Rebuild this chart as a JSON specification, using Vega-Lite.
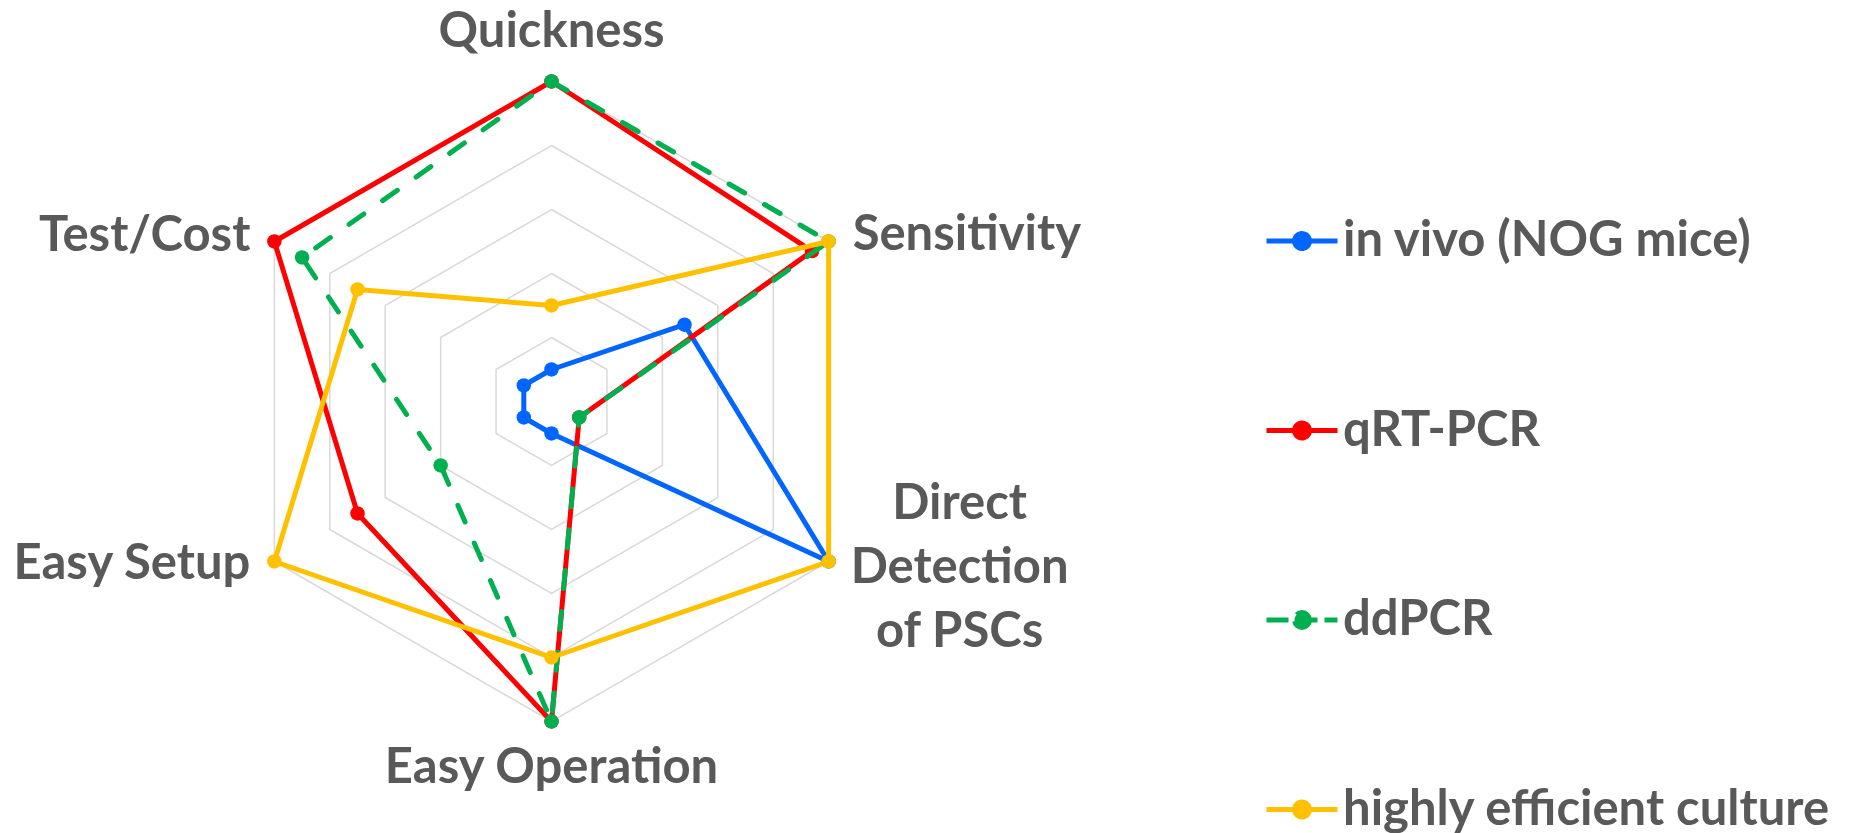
{
  "$schema": "https://vega.github.io/schema/vega-lite/v6.json",
  "width": 1861,
  "height": 833,
  "autosize": {"type": "none"},
  "padding": 0,
  "background": "white",
  "config": {"view": {"stroke": null}, "font": "Lato"},
  "datasets": {
    "axes": [
      {"criterion": "Quickness", "label": "Quickness", "levels": [1, 2, 3, 4, 5]},
      {"criterion": "Sensitivity", "label": "Sensitivity", "levels": [1, 2, 3, 4, 5]},
      {"criterion": "Direct Detection of PSCs", "label": "Direct\nDetection\nof PSCs", "levels": [1, 2, 3, 4, 5]},
      {"criterion": "Easy Operation", "label": "Easy Operation", "levels": [1, 2, 3, 4, 5]},
      {"criterion": "Easy Setup", "label": "Easy Setup", "levels": [1, 2, 3, 4, 5]},
      {"criterion": "Test/Cost", "label": "Test/Cost", "levels": [1, 2, 3, 4, 5]}
    ],
    "scores": [
      {"method": "in vivo (NOG mice)", "criterion": "Quickness", "value": 0.5},
      {"method": "in vivo (NOG mice)", "criterion": "Sensitivity", "value": 2.4},
      {"method": "in vivo (NOG mice)", "criterion": "Direct Detection of PSCs", "value": 5},
      {"method": "in vivo (NOG mice)", "criterion": "Easy Operation", "value": 0.5},
      {"method": "in vivo (NOG mice)", "criterion": "Easy Setup", "value": 0.5},
      {"method": "in vivo (NOG mice)", "criterion": "Test/Cost", "value": 0.5},
      {"method": "qRT-PCR", "criterion": "Quickness", "value": 5},
      {"method": "qRT-PCR", "criterion": "Sensitivity", "value": 4.7},
      {"method": "qRT-PCR", "criterion": "Direct Detection of PSCs", "value": 0.5},
      {"method": "qRT-PCR", "criterion": "Easy Operation", "value": 5},
      {"method": "qRT-PCR", "criterion": "Easy Setup", "value": 3.5},
      {"method": "qRT-PCR", "criterion": "Test/Cost", "value": 5},
      {"method": "ddPCR", "criterion": "Quickness", "value": 5},
      {"method": "ddPCR", "criterion": "Sensitivity", "value": 5},
      {"method": "ddPCR", "criterion": "Direct Detection of PSCs", "value": 0.5},
      {"method": "ddPCR", "criterion": "Easy Operation", "value": 5},
      {"method": "ddPCR", "criterion": "Easy Setup", "value": 2},
      {"method": "ddPCR", "criterion": "Test/Cost", "value": 4.5},
      {"method": "highly efficient culture", "criterion": "Quickness", "value": 1.5},
      {"method": "highly efficient culture", "criterion": "Sensitivity", "value": 5},
      {"method": "highly efficient culture", "criterion": "Direct Detection of PSCs", "value": 5},
      {"method": "highly efficient culture", "criterion": "Easy Operation", "value": 4},
      {"method": "highly efficient culture", "criterion": "Easy Setup", "value": 5},
      {"method": "highly efficient culture", "criterion": "Test/Cost", "value": 3.5}
    ]
  },
  "encoding": {
    "x": {"field": "x", "type": "quantitative", "scale": {"domain": [-8.6172, 20.4609], "nice": false, "zero": false}, "axis": null},
    "y": {"field": "y", "type": "quantitative", "scale": {"domain": [-6.7422, 6.2734], "nice": false, "zero": false}, "axis": null}
  },
  "layer": [
    {
      "data": {"name": "axes"},
      "transform": [
        {"flatten": ["levels"], "as": ["level"]},
        {"calculate": "indexof(['Quickness','Sensitivity','Direct Detection of PSCs','Easy Operation','Easy Setup','Test/Cost'], datum.criterion)", "as": "idx"},
        {"calculate": "datum.level * sin(datum.idx * PI / 3)", "as": "x"},
        {"calculate": "datum.level * cos(datum.idx * PI / 3)", "as": "y"}
      ],
      "mark": {"type": "line", "interpolate": "linear-closed", "stroke": "#D9D9D9", "strokeWidth": 1.5},
      "encoding": {
        "detail": {"field": "level", "type": "nominal"},
        "order": {"field": "idx", "type": "quantitative"}
      }
    },
    {
      "data": {"name": "scores"},
      "transform": [
        {"filter": "datum.method === 'in vivo (NOG mice)'"},
        {"calculate": "indexof(['Quickness','Sensitivity','Direct Detection of PSCs','Easy Operation','Easy Setup','Test/Cost'], datum.criterion)", "as": "idx"},
        {"calculate": "datum.value * sin(datum.idx * PI / 3)", "as": "x"},
        {"calculate": "datum.value * cos(datum.idx * PI / 3)", "as": "y"}
      ],
      "mark": {"type": "line", "interpolate": "linear-closed", "strokeWidth": 5, "strokeJoin": "round", "point": {"filled": true, "size": 210, "opacity": 1}},
      "encoding": {
        "color": {
          "field": "method", "type": "nominal",
          "scale": {"domain": ["in vivo (NOG mice)", "qRT-PCR", "ddPCR", "highly efficient culture"], "range": ["#0066FF", "#FF0000", "#00B050", "#FFC000"]},
          "legend": {
            "title": null, "orient": "none", "legendX": 1264, "legendY": 203, "direction": "vertical", "padding": 0,
            "symbolType": "M-1,0H1M0.21,0A0.21,0.21,0,1,1,-0.21,0A0.21,0.21,0,1,1,0.21,0Z",
            "symbolSize": 5041, "symbolStrokeWidth": 5,
            "labelFont": "Lato", "labelFontSize": 49, "labelFontWeight": "bold", "labelColor": "#595959",
            "labelLimit": 800, "labelOffset": 3, "rowPadding": 126.5,
            "encode": {"symbols": {"update": {
              "fill": {"scale": "color", "field": "value"},
              "stroke": {"scale": "color", "field": "value"},
              "strokeDash": {"signal": "datum.value === 'ddPCR' ? [22, 7] : [1, 0]"},
              "opacity": {"value": 1}
            }}}
          }
        },
        "order": {"field": "idx", "type": "quantitative"}
      }
    },
    {
      "data": {"name": "scores"},
      "transform": [
        {"filter": "datum.method === 'qRT-PCR'"},
        {"calculate": "indexof(['Quickness','Sensitivity','Direct Detection of PSCs','Easy Operation','Easy Setup','Test/Cost'], datum.criterion)", "as": "idx"},
        {"calculate": "datum.value * sin(datum.idx * PI / 3)", "as": "x"},
        {"calculate": "datum.value * cos(datum.idx * PI / 3)", "as": "y"}
      ],
      "mark": {"type": "line", "interpolate": "linear-closed", "strokeWidth": 5, "strokeJoin": "round", "point": {"filled": true, "size": 210, "opacity": 1}},
      "encoding": {
        "color": {"field": "method", "type": "nominal"},
        "order": {"field": "idx", "type": "quantitative"}
      }
    },
    {
      "data": {"name": "scores"},
      "transform": [
        {"filter": "datum.method === 'ddPCR'"},
        {"calculate": "indexof(['Quickness','Sensitivity','Direct Detection of PSCs','Easy Operation','Easy Setup','Test/Cost'], datum.criterion)", "as": "idx"},
        {"calculate": "datum.value * sin(datum.idx * PI / 3)", "as": "x"},
        {"calculate": "datum.value * cos(datum.idx * PI / 3)", "as": "y"}
      ],
      "mark": {"type": "line", "interpolate": "linear-closed", "strokeWidth": 5, "strokeCap": "round", "strokeDash": [18, 23], "point": {"filled": true, "size": 210, "opacity": 1}},
      "encoding": {
        "color": {"field": "method", "type": "nominal"},
        "order": {"field": "idx", "type": "quantitative"}
      }
    },
    {
      "data": {"name": "scores"},
      "transform": [
        {"filter": "datum.method === 'highly efficient culture'"},
        {"calculate": "indexof(['Quickness','Sensitivity','Direct Detection of PSCs','Easy Operation','Easy Setup','Test/Cost'], datum.criterion)", "as": "idx"},
        {"calculate": "datum.value * sin(datum.idx * PI / 3)", "as": "x"},
        {"calculate": "datum.value * cos(datum.idx * PI / 3)", "as": "y"}
      ],
      "mark": {"type": "line", "interpolate": "linear-closed", "strokeWidth": 5, "strokeJoin": "round", "point": {"filled": true, "size": 210, "opacity": 1}},
      "encoding": {
        "color": {"field": "method", "type": "nominal"},
        "order": {"field": "idx", "type": "quantitative"}
      }
    },
    {
      "data": {"name": "axes"},
      "transform": [
        {"filter": "datum.criterion === 'Quickness'"},
        {"calculate": "indexof(['Quickness','Sensitivity','Direct Detection of PSCs','Easy Operation','Easy Setup','Test/Cost'], datum.criterion)", "as": "idx"},
        {"calculate": "5 * sin(datum.idx * PI / 3)", "as": "x"},
        {"calculate": "5 * cos(datum.idx * PI / 3)", "as": "y"}
      ],
      "mark": {"type": "text", "align": "center", "baseline": "alphabetic", "dy": -34, "font": "Lato", "fontSize": 49, "fontWeight": "bold", "color": "#595959"},
      "encoding": {"text": {"field": "label"}}
    },
    {
      "data": {"name": "axes"},
      "transform": [
        {"filter": "datum.criterion === 'Sensitivity'"},
        {"calculate": "indexof(['Quickness','Sensitivity','Direct Detection of PSCs','Easy Operation','Easy Setup','Test/Cost'], datum.criterion)", "as": "idx"},
        {"calculate": "5 * sin(datum.idx * PI / 3)", "as": "x"},
        {"calculate": "5 * cos(datum.idx * PI / 3)", "as": "y"}
      ],
      "mark": {"type": "text", "align": "left", "baseline": "alphabetic", "dx": 24, "dy": 8.5, "font": "Lato", "fontSize": 49, "fontWeight": "bold", "color": "#595959"},
      "encoding": {"text": {"field": "label"}}
    },
    {
      "data": {"name": "axes"},
      "transform": [
        {"filter": "datum.criterion === 'Direct Detection of PSCs'"},
        {"calculate": "indexof(['Quickness','Sensitivity','Direct Detection of PSCs','Easy Operation','Easy Setup','Test/Cost'], datum.criterion)", "as": "idx"},
        {"calculate": "5 * sin(datum.idx * PI / 3)", "as": "x"},
        {"calculate": "5 * cos(datum.idx * PI / 3)", "as": "y"}
      ],
      "mark": {"type": "text", "align": "center", "baseline": "middle", "dx": 131, "dy": -57, "lineBreak": "\n", "lineHeight": 64, "font": "Lato", "fontSize": 49, "fontWeight": "bold", "color": "#595959"},
      "encoding": {"text": {"field": "label"}}
    },
    {
      "data": {"name": "axes"},
      "transform": [
        {"filter": "datum.criterion === 'Easy Operation'"},
        {"calculate": "indexof(['Quickness','Sensitivity','Direct Detection of PSCs','Easy Operation','Easy Setup','Test/Cost'], datum.criterion)", "as": "idx"},
        {"calculate": "5 * sin(datum.idx * PI / 3)", "as": "x"},
        {"calculate": "5 * cos(datum.idx * PI / 3)", "as": "y"}
      ],
      "mark": {"type": "text", "align": "center", "baseline": "alphabetic", "dy": 62, "font": "Lato", "fontSize": 49, "fontWeight": "bold", "color": "#595959"},
      "encoding": {"text": {"field": "label"}}
    },
    {
      "data": {"name": "axes"},
      "transform": [
        {"filter": "datum.criterion === 'Easy Setup'"},
        {"calculate": "indexof(['Quickness','Sensitivity','Direct Detection of PSCs','Easy Operation','Easy Setup','Test/Cost'], datum.criterion)", "as": "idx"},
        {"calculate": "5 * sin(datum.idx * PI / 3)", "as": "x"},
        {"calculate": "5 * cos(datum.idx * PI / 3)", "as": "y"}
      ],
      "mark": {"type": "text", "align": "right", "baseline": "alphabetic", "dx": -24, "dy": 18, "font": "Lato", "fontSize": 49, "fontWeight": "bold", "color": "#595959"},
      "encoding": {"text": {"field": "label"}}
    },
    {
      "data": {"name": "axes"},
      "transform": [
        {"filter": "datum.criterion === 'Test/Cost'"},
        {"calculate": "indexof(['Quickness','Sensitivity','Direct Detection of PSCs','Easy Operation','Easy Setup','Test/Cost'], datum.criterion)", "as": "idx"},
        {"calculate": "5 * sin(datum.idx * PI / 3)", "as": "x"},
        {"calculate": "5 * cos(datum.idx * PI / 3)", "as": "y"}
      ],
      "mark": {"type": "text", "align": "right", "baseline": "alphabetic", "dx": -24, "dy": 10, "font": "Lato", "fontSize": 49, "fontWeight": "bold", "color": "#595959"},
      "encoding": {"text": {"field": "label"}}
    }
  ]
}
